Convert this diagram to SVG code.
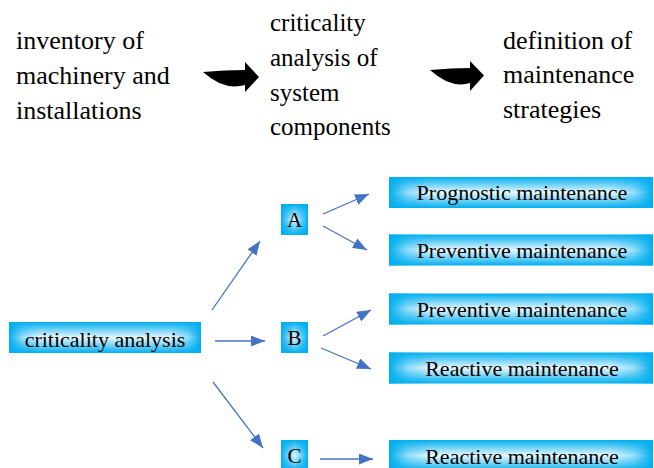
<svg xmlns="http://www.w3.org/2000/svg" width="654" height="468" viewBox="0 0 654 468">
  <style>
    text { font-family: "Liberation Serif", "DejaVu Serif", serif; fill: #000; }
    .title { font-size: 26px; }
    .mid { font-size: 25px; }
    .label { font-size: 22px; text-anchor: middle; }
    .letter { font-size: 21px; }
    .edge { fill: none; stroke: #4472C4; stroke-width: 1.3; marker-end: url(#tri); }
    .swoosh { fill: #000; }
  </style>
  <defs>
    <!-- vertical band: cyan at top/bottom, pale in the middle -->
    <linearGradient id="vband" x1="0" y1="0" x2="0" y2="1">
      <stop offset="0" stop-color="#00AEEF"/>
      <stop offset="0.5" stop-color="#E8F8FE"/>
      <stop offset="1" stop-color="#00AEEF"/>
    </linearGradient>
    <!-- side shading for wide bars -->
    <linearGradient id="hwide" x1="0" y1="0" x2="1" y2="0">
      <stop offset="0" stop-color="#00AEEF" stop-opacity="1"/>
      <stop offset="0.07" stop-color="#00AEEF" stop-opacity="0.35"/>
      <stop offset="0.16" stop-color="#00AEEF" stop-opacity="0"/>
      <stop offset="0.84" stop-color="#00AEEF" stop-opacity="0"/>
      <stop offset="0.93" stop-color="#00AEEF" stop-opacity="0.35"/>
      <stop offset="1" stop-color="#00AEEF" stop-opacity="1"/>
    </linearGradient>
    <!-- side shading for small square boxes -->
    <linearGradient id="hsq" x1="0" y1="0" x2="1" y2="0">
      <stop offset="0" stop-color="#00AEEF" stop-opacity="1"/>
      <stop offset="0.5" stop-color="#00AEEF" stop-opacity="0"/>
      <stop offset="1" stop-color="#00AEEF" stop-opacity="1"/>
    </linearGradient>
    <marker id="tri" markerUnits="userSpaceOnUse" markerWidth="14" markerHeight="11" refX="14" refY="5.5" orient="auto">
      <path d="M0,0 L14,5.5 L0,11 Z" fill="#4472C4"/>
    </marker>
  </defs>

  <!-- process flow along the top -->
  <g id="step-inventory">
    <text class="title" x="16" y="49">inventory of</text>
    <text class="title" x="16" y="84">machinery and</text>
    <text class="title" x="16" y="118.5">installations</text>
  </g>
  <g id="step-criticality">
    <text class="title mid" x="270" y="31">criticality</text>
    <text class="title mid" x="270" y="66">analysis of</text>
    <text class="title mid" x="270" y="100.5">system</text>
    <text class="title mid" x="270" y="135">components</text>
  </g>
  <g id="step-strategies">
    <text class="title" x="503" y="48.5">definition of</text>
    <text class="title" x="503" y="83">maintenance</text>
    <text class="title" x="503" y="118">strategies</text>
  </g>
  <g id="flow-arrows">
    <path class="swoosh" d="M203,72 Q225,70 245,70 L245,62 L259,77 L245,92 L245,85 Q224,91 203,72 Z"/>
    <path class="swoosh" d="M430,70 Q452,68 470,68 L470,61 L484,75.5 L470,91 L470,83 Q451,89 430,70 Z"/>
  </g>

  <!-- connectors of the criticality tree -->
  <g id="connectors">
    <line class="edge" x1="212" y1="310" x2="260" y2="241"/>
    <line class="edge" x1="215" y1="341" x2="265" y2="341"/>
    <line class="edge" x1="213" y1="382" x2="263" y2="448"/>
    <line class="edge" x1="323" y1="214" x2="369" y2="194"/>
    <line class="edge" x1="323" y1="226" x2="367" y2="250"/>
    <line class="edge" x1="323" y1="336" x2="371" y2="310"/>
    <line class="edge" x1="321" y1="348" x2="371" y2="369"/>
    <line class="edge" x1="320" y1="459" x2="373" y2="459"/>
  </g>

  <g id="node-criticality-analysis">
    <rect x="9" y="322" width="192" height="31" fill="url(#vband)"/>
    <rect x="9" y="322" width="192" height="31" fill="url(#hwide)"/>
    <text class="label" x="105" y="347">criticality analysis</text>
  </g>

  <g id="node-A">
    <rect x="281" y="204" width="27" height="31" fill="url(#vband)"/>
    <rect x="281" y="204" width="27" height="31" fill="url(#hsq)"/>
    <text class="label letter" x="294.5" y="227">A</text>
  </g>
  <g id="node-B">
    <rect x="281" y="322" width="27" height="31" fill="url(#vband)"/>
    <rect x="281" y="322" width="27" height="31" fill="url(#hsq)"/>
    <text class="label letter" x="294.5" y="345">B</text>
  </g>
  <g id="node-C">
    <rect x="281" y="440" width="27" height="31" fill="url(#vband)"/>
    <rect x="281" y="440" width="27" height="31" fill="url(#hsq)"/>
    <text class="label letter" x="294.5" y="463">C</text>
  </g>

  <g id="node-prognostic-A">
    <rect x="389" y="177" width="264" height="31" fill="url(#vband)"/>
    <rect x="389" y="177" width="264" height="31" fill="url(#hwide)"/>
    <text class="label" x="522" y="200">Prognostic maintenance</text>
  </g>
  <g id="node-preventive-A">
    <rect x="389" y="234.5" width="264" height="31" fill="url(#vband)"/>
    <rect x="389" y="234.5" width="264" height="31" fill="url(#hwide)"/>
    <text class="label" x="522" y="258">Preventive maintenance</text>
  </g>
  <g id="node-preventive-B">
    <rect x="389" y="293.5" width="264" height="31" fill="url(#vband)"/>
    <rect x="389" y="293.5" width="264" height="31" fill="url(#hwide)"/>
    <text class="label" x="522" y="317">Preventive maintenance</text>
  </g>
  <g id="node-reactive-B">
    <rect x="389" y="352.5" width="264" height="31" fill="url(#vband)"/>
    <rect x="389" y="352.5" width="264" height="31" fill="url(#hwide)"/>
    <text class="label" x="522" y="376">Reactive maintenance</text>
  </g>
  <g id="node-reactive-C">
    <rect x="389" y="440" width="264" height="31" fill="url(#vband)"/>
    <rect x="389" y="440" width="264" height="31" fill="url(#hwide)"/>
    <text class="label" x="522" y="463.5">Reactive maintenance</text>
  </g>
</svg>
